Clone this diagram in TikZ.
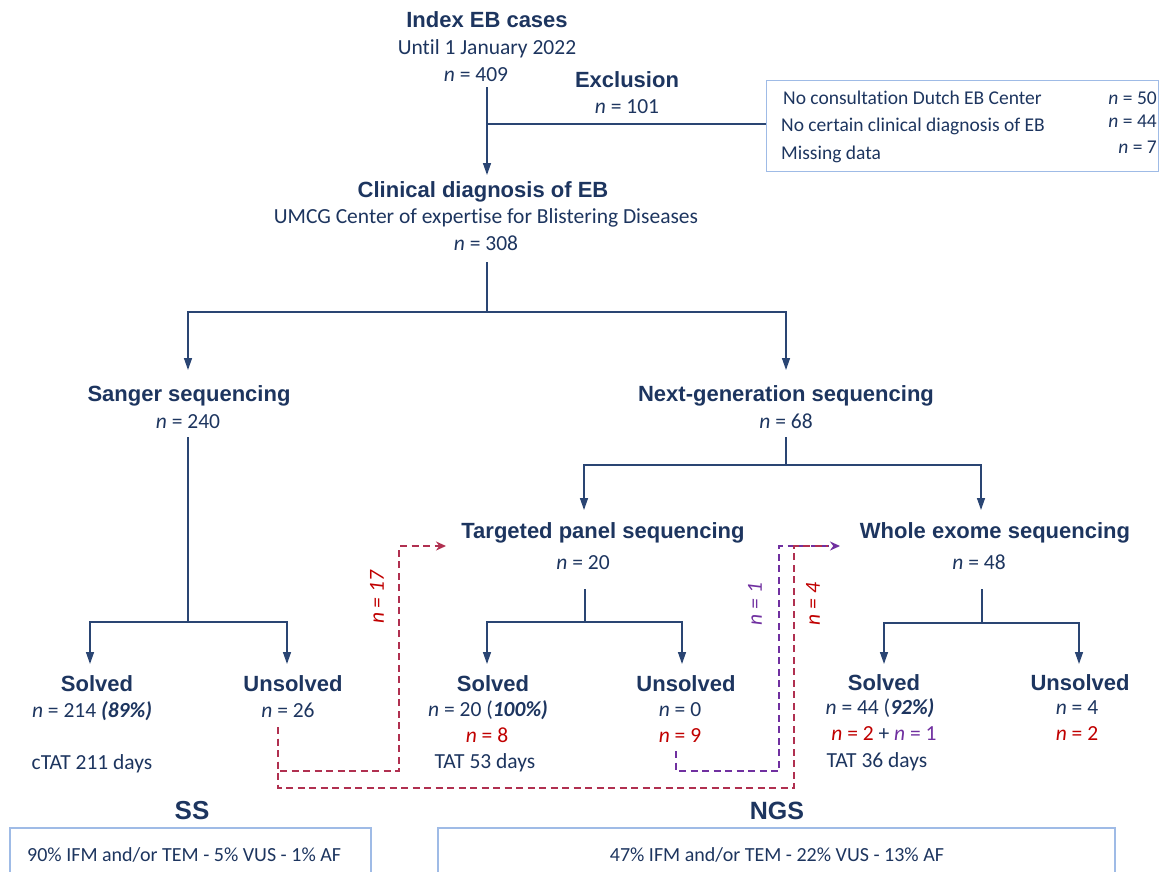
\documentclass[tikz,border=0pt]{standalone}
\usepackage{fontspec}
\setmainfont{Carlito}[Ligatures=NoCommon]
\newfontfamily\hfont{Liberation Sans}
\usetikzlibrary{arrows.meta}
\definecolor{navy}{HTML}{1D355F}
\definecolor{lnavy}{HTML}{2A4573}
\definecolor{boxb}{HTML}{9FBBE6}
\definecolor{rtxt}{HTML}{C00000}
\definecolor{rdash}{HTML}{B03050}
\definecolor{purp}{HTML}{7030A0}
\newcommand\nn{\textit{n}}
\newcommand\bi[1]{\textbf{\textit{#1}}}
\begin{document}
\begin{tikzpicture}[x=1pt,y=-1pt,
  title/.style={font=\hfont\bfseries\fontsize{22}{26}\selectfont, text=navy, inner sep=0, anchor=base},
  body/.style={font=\fontsize{21.5}{26}\selectfont, text=navy, inner sep=0, anchor=base},
  small/.style={font=\fontsize{19.5}{24}\selectfont, text=navy, inner sep=0, anchor=base},
  redt/.style={body, text=rtxt},
  conn/.style={draw=lnavy, line width=1.4pt},
  arr/.style={conn, -{Triangle[length=12pt,width=8pt]}},
  rdl/.style={draw=rdash, line width=1.6pt, dash pattern=on 7pt off 4.5pt},
  pdl/.style={draw=purp, line width=1.6pt, dash pattern=on 7pt off 4.5pt},
  darr/.style={-{Stealth[length=10pt,width=9pt]}},
  infobox/.style={draw=boxb, line width=1.3pt}
]
\useasboundingbox (0,0) rectangle (1167,871);

% top
\node[title] (idx) at (487,27) {Index EB cases};
\node[body] (until) at (487,54) {Until 1 January 2022};
\node[body] (n409) at (476,81) {\nn{} = 409};
\node[title] (excl) at (627,87) {Exclusion};
\node[body] (n101) at (627,113) {\nn{} = 101};

% exclusion box
\node[infobox, minimum width=392pt, minimum height=91pt, anchor=north west, inner sep=0] (exbox) at (766,80) {};
\node[small, anchor=base west] (e1) at (783,104) {No consultation Dutch EB Center};
\node[small, anchor=base west] (e2) at (781,131) {No certain clinical diagnosis of EB};
\node[small, anchor=base west] (e3) at (781,159) {Missing data};
\node[small, anchor=base east] (e1n) at (1157,104) {\nn{} = 50};
\node[small, anchor=base east] (e2n) at (1157,127) {\nn{} = 44};
\node[small, anchor=base east] (e3n) at (1157,153) {\nn{} = 7};

\node[title] (clin) at (483,197) {Clinical diagnosis of EB};
\node[body] (umcg) at (486,223) {UMCG Center of expertise for Blistering Diseases};
\node[body] (n308) at (486,250) {\nn{} = 308};

\coordinate (t0) at (487,87);
\coordinate (tj) at (487,124);
\coordinate (t1) at (487,175);
\draw[arr] (t0) -- (t1);
\draw[conn] (tj) -- (exbox.west |- tj);

% level 2
\coordinate (c0) at (487,262);
\coordinate (cj) at (487,312);
\coordinate (cl) at (188,312);
\coordinate (cr) at (786,312);
\coordinate (clt) at (188,370);
\coordinate (crt) at (786,370);
\draw[conn] (c0) -- (cj);
\draw[arr] (cj) -- (cl) -- (clt);
\draw[arr] (cj) -- (cr) -- (crt);

\node[title] (sanger) at (189,401) {Sanger sequencing};
\node[body] (n240) at (188,428) {\nn{} = 240};
\node[title] (ngs) at (786,401) {Next-generation sequencing};
\node[body] (n68) at (786,428) {\nn{} = 68};

% sanger split
\coordinate (s0) at (188,437);
\coordinate (sj) at (188,622);
\coordinate (sl) at (90,622);
\coordinate (sr) at (287,622);
\coordinate (slt) at (90,664);
\coordinate (srt) at (287,664);
\draw[conn] (s0) -- (sj);
\draw[arr] (sj) -- (sl) -- (slt);
\draw[arr] (sj) -- (sr) -- (srt);

% ngs split
\coordinate (g0) at (786,437);
\coordinate (gj) at (786,465);
\coordinate (gl) at (584,465);
\coordinate (gr) at (981,465);
\coordinate (glt) at (584,510);
\coordinate (grt) at (981,510);
\draw[conn] (g0) -- (gj);
\draw[arr] (gj) -- (gl) -- (glt);
\draw[arr] (gj) -- (gr) -- (grt);

\node[title] (tps) at (603,538) {Targeted panel sequencing};
\node[body] (n20) at (583,569) {\nn{} = 20};
\node[title] (wes) at (995,538) {Whole exome sequencing};
\node[body] (n48) at (979,569) {\nn{} = 48};

% tps split
\coordinate (p0) at (585,589);
\coordinate (pj) at (585,622);
\coordinate (pl) at (487,622);
\coordinate (pr) at (682,622);
\coordinate (plt) at (487,664);
\coordinate (prt) at (682,664);
\draw[conn] (p0) -- (pj);
\draw[arr] (pj) -- (pl) -- (plt);
\draw[arr] (pj) -- (pr) -- (prt);

% wes split
\coordinate (w0) at (982,589);
\coordinate (wj) at (982,623);
\coordinate (wl) at (884,623);
\coordinate (wr) at (1079,623);
\coordinate (wlt) at (884,664);
\coordinate (wrt) at (1079,664);
\draw[conn] (w0) -- (wj);
\draw[arr] (wj) -- (wl) -- (wlt);
\draw[arr] (wj) -- (wr) -- (wrt);

% bottom row
\node[title] (sol1) at (97,691) {Solved};
\node[body] (sol1n) at (92,717) {\nn{} = 214 \bi{(89\%)}};
\node[body] (sol1t) at (92,769) {cTAT 211 days};
\node[title] (uns1) at (293,691) {Unsolved};
\node[body] (uns1n) at (288,717) {\nn{} = 26};

\node[title] (sol2) at (493,691) {Solved};
\node[body] (sol2n) at (488,716) {\nn{} = 20 (\bi{100\%)}};
\node[redt] (sol2r) at (487,742) {\nn{} = 8};
\node[body] (sol2t) at (485,768) {TAT 53 days};
\node[title] (uns2) at (686,691) {Unsolved};
\node[body] (uns2n) at (680,716) {\nn{} = 0};
\node[redt] (uns2r) at (680,742) {\nn{} = 9};

\node[title] (sol3) at (884,690) {Solved};
\node[body] (sol3n) at (880,714) {\nn{} = 44 (\bi{92\%)}};
\node[body] (sol3r) at (884,740) {\textcolor{rtxt}{\nn{} = 2} + \textcolor{purp}{\nn{} = 1}};
\node[body] (sol3t) at (877,767) {TAT 36 days};
\node[title] (uns3) at (1080,690) {Unsolved};
\node[body] (uns3n) at (1077,714) {\nn{} = 4};
\node[redt] (uns3r) at (1077,740) {\nn{} = 2};

% dashed re-routes
\coordinate (da0) at (278,727);
\coordinate (da1) at (278,771);
\coordinate (da2) at (399,771);
\coordinate (da3) at (399,546);
\coordinate (da4) at (446,546);
\coordinate (db1) at (278,788);
\coordinate (db2) at (794,788);
\coordinate (db3) at (794,546);
\coordinate (db4) at (840,546);
\coordinate (dc0) at (676,751);
\coordinate (dc1) at (676,771);
\coordinate (dc2) at (779,771);
\coordinate (dc3) at (779,546);

\draw[pdl, darr] (dc0) -- (dc1) -- (dc2) -- (dc3) -- (db4);
\draw[rdl] (da0) -- (db1) -- (db2) -- (db3) -- ([xshift=-12pt]db4);
\draw[rdl, darr] (da0) -- (da1) -- (da2) -- (da3) -- (da4);

\node[body, text=rtxt, rotate=90, anchor=center] (l17) at (377,597) {\textit{n = 17}};
\node[body, text=purp, rotate=90, anchor=center] (l1) at (755,604) {\textit{n = 1}};
\node[body, text=rtxt, rotate=90, anchor=center] (l4) at (813,604) {\textit{n = 4}};

% bottom summaries
\node[font=\hfont\bfseries\fontsize{26}{30}\selectfont, text=navy, inner sep=0, anchor=base] (ss) at (192,819) {SS};
\node[font=\hfont\bfseries\fontsize{25}{30}\selectfont, text=navy, inner sep=0, anchor=base] (ngsl) at (777,819) {NGS};
\draw[infobox] (10,880) -- (10,828) -- (371,828) -- (371,880);
\draw[infobox] (438,880) -- (438,828) -- (1115,828) -- (1115,880);
\node[font=\fontsize{20}{24}\selectfont, text=navy, inner sep=0, anchor=base west] (sst) at (27,861) {90\% IFM and/or TEM - 5\% VUS - 1\% AF};
\node[font=\fontsize{20}{24}\selectfont, text=navy, inner sep=0, anchor=base] (ngst) at (777,861) {47\% IFM and/or TEM - 22\% VUS - 13\% AF};
\end{tikzpicture}
\end{document}
